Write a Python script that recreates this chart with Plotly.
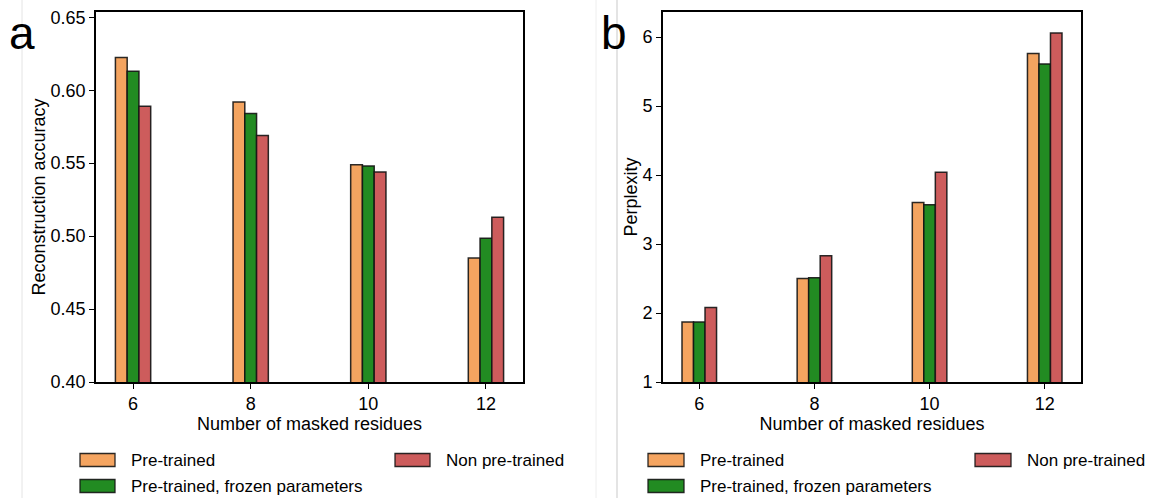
import plotly.graph_objects as go

# ---------------- data ----------------
categories = [6, 8, 10, 12]
series_names = ["Pre-trained", "Pre-trained, frozen parameters", "Non pre-trained"]
series_colors = ["#F4A460", "#228B22", "#CD5C5C"]

acc_pretrained = [0.6225, 0.592, 0.549, 0.485]
acc_frozen = [0.613, 0.584, 0.548, 0.4985]
acc_nonpre = [0.589, 0.569, 0.544, 0.513]

ppl_pretrained = [1.87, 2.50, 3.60, 5.76]
ppl_frozen = [1.87, 2.51, 3.57, 5.61]
ppl_nonpre = [2.08, 2.83, 4.04, 6.06]

acc_ticks = [0.40, 0.45, 0.50, 0.55, 0.60, 0.65]
ppl_ticks = [1, 2, 3, 4, 5, 6]

x_title = "Number of masked residues"
acc_title = "Reconstruction accuracy"
ppl_title = "Perplexity"
panel_labels = ["a", "b"]

# ---------------- figure ----------------
W, H = 1150, 498
FONT = "Liberation Sans, Arial, sans-serif"
bar_width = 0.2
offsets = [-0.3, -0.1, 0.1]
edge = dict(color="rgba(20,20,20,0.9)", width=1.5)

fig = go.Figure()
acc_series = [acc_pretrained, acc_frozen, acc_nonpre]
ppl_series = [ppl_pretrained, ppl_frozen, ppl_nonpre]
for name, vals, col, off in zip(series_names, acc_series, series_colors, offsets):
    fig.add_trace(go.Bar(x=categories, y=vals, name=name, width=bar_width, offset=off,
                         marker=dict(color=col, line=edge), xaxis="x", yaxis="y",
                         showlegend=False))
for name, vals, col, off in zip(series_names, ppl_series, series_colors, offsets):
    fig.add_trace(go.Bar(x=categories, y=vals, name=name, width=bar_width, offset=off,
                         marker=dict(color=col, line=edge), xaxis="x2", yaxis="y2",
                         showlegend=False))

all_x = [c + o for c in categories for o in offsets]
x_lo = min(all_x)
x_hi = max(all_x) + bar_width
x_pad = 0.05 * (x_hi - x_lo)
x_range = [x_lo - x_pad, x_hi + x_pad]

acc_top = max(max(s) for s in acc_series) * 1.05
ppl_top = max(max(s) for s in ppl_series) * 1.05


def px_x(p):
    return p / W


def px_y(p):
    return 1 - p / H


ydom = [px_y(382), px_y(12)]
common_x = dict(range=x_range, tickvals=categories, ticks="outside", ticklen=5, tickwidth=1.3,
                tickcolor="black", showline=True, linecolor="black", linewidth=1.6, mirror=True,
                showgrid=False, zeroline=False, automargin=False,
                tickfont=dict(size=18, color="black", family=FONT),
                title=dict(text=x_title, font=dict(size=18, color="black", family=FONT), standoff=3))
common_y = dict(ticks="outside", ticklen=5, tickwidth=1.3, tickcolor="black", showline=True,
                linecolor="black", linewidth=1.6, mirror=True, showgrid=False, zeroline=False,
                automargin=False, tickfont=dict(size=18, color="black", family=FONT))

fig.update_layout(
    width=W, height=H, template="none",
    paper_bgcolor="white", plot_bgcolor="white",
    margin=dict(l=0, r=0, t=0, b=0),
    barmode="overlay",
    font=dict(family=FONT, color="black"),
    xaxis=dict(domain=[px_x(96), px_x(523)], anchor="y", **common_x),
    yaxis=dict(domain=ydom, anchor="x", range=[acc_ticks[0], acc_top], tickvals=acc_ticks,
               tickformat=".2f",
               title=dict(text=acc_title, font=dict(size=18, color="black", family=FONT), standoff=0),
               **common_y),
    xaxis2=dict(domain=[px_x(663), px_x(1081)], anchor="y2", **common_x),
    yaxis2=dict(domain=ydom, anchor="x2", range=[ppl_ticks[0], ppl_top], tickvals=ppl_ticks,
                title=dict(text=ppl_title, font=dict(size=18, color="black", family=FONT), standoff=0),
                **common_y),
)

shapes = []
# faint panel separators
for xp, col in [(22, "#e4e4e4"), (596, "#eeeeee"), (617, "#c9c9c9")]:
    shapes.append(dict(type="line", xref="paper", yref="paper", x0=px_x(xp), x1=px_x(xp),
                       y0=0, y1=1, line=dict(color=col, width=1), layer="below"))

annotations = []
# panel letters
for lab, xp in zip(panel_labels, [22, 614]):
    annotations.append(dict(text=lab, x=px_x(xp), y=px_y(33), xref="paper", yref="paper",
                            xanchor="center", yanchor="middle", showarrow=False,
                            font=dict(size=46, color="black", family=FONT)))

# legends (one below each panel, two columns)
legend_layouts = [
    # (patch_x_col1, patch_x_col2, patch_w)
    (80, 395, 35),
    (648, 975, 36),
]
row_y = [460, 486]
slots = [(0, 0), (0, 1), (1, 0)]  # (column, row) for each series
for px1, px2, pw in legend_layouts:
    for (colidx, rowidx), name, col in zip(slots, series_names, series_colors):
        x0 = px1 if colidx == 0 else px2
        yc = row_y[rowidx]
        shapes.append(dict(type="rect", xref="paper", yref="paper",
                           x0=px_x(x0), x1=px_x(x0 + pw), y0=px_y(yc + 6.5), y1=px_y(yc - 6.5),
                           fillcolor=col, line=dict(color="rgba(20,20,20,0.9)", width=1.3)))
        annotations.append(dict(text=name, x=px_x(x0 + pw + 14), y=px_y(yc), xref="paper",
                                yref="paper", xanchor="left", yanchor="middle", showarrow=False,
                                font=dict(size=17, color="black", family=FONT)))

fig.update_layout(shapes=shapes, annotations=annotations)
fig.write_html("out.html")
